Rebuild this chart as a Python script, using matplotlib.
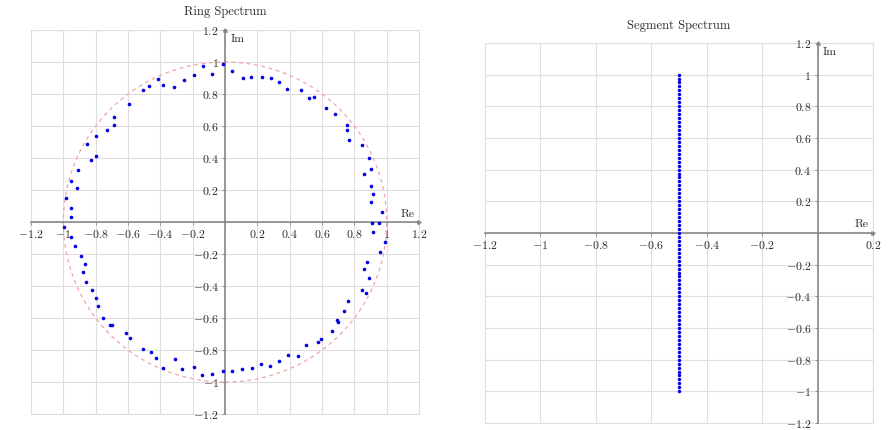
import matplotlib
matplotlib.use("Agg")
import matplotlib.pyplot as plt
from matplotlib.patches import Circle, Rectangle
from matplotlib.ticker import FixedLocator, FuncFormatter

plt.rcParams['font.family'] = 'serif'
plt.rcParams['font.serif'] = ['cmr10']
plt.rcParams['mathtext.fontset'] = 'cm'

# ring spectrum eigenvalues
ring_re = [-0.951, -0.951, -0.986, -0.914, -0.953, -0.910, -0.831, -0.800, -0.854, -0.796,
           -0.730, -0.685, -0.685, -0.593, -0.506, -0.469, -0.416, -0.385, -0.313, -0.251,
           -0.190, -0.134, -0.078, -0.014, 0.045, 0.109, 0.159, 0.226, 0.282, 0.335,
           0.381, 0.469, 0.519, 0.551, 0.623, 0.677, 0.757, 0.757, 0.767, 0.850,
           0.891, 0.905, 0.860, 0.905, 0.916, 0.905, 0.973, 0.909, 0.951,
           0.916, 0.990, 0.957, 0.875, 0.860, 0.891, 0.844, 0.870, 0.763, 0.735,
           0.693, 0.700, 0.660, 0.593, 0.572, 0.500, 0.449, 0.387, 0.333, 0.278,
           0.220, 0.165, 0.105, 0.045, -0.014, -0.078, -0.140, -0.190, -0.265, -0.311,
           -0.381, -0.426, -0.457, -0.508, -0.591, -0.611, -0.700, -0.710, -0.755, -0.783,
           -0.796, -0.821, -0.858, -0.881, -0.867, -0.892, -0.928, -0.954, -0.994]
ring_im = [0.029, 0.087, 0.147, 0.215, 0.254, 0.328, 0.386, 0.413, 0.487, 0.537,
           0.572, 0.607, 0.654, 0.739, 0.822, 0.853, 0.892, 0.854, 0.846, 0.886,
           0.920, 0.976, 0.924, 0.986, 0.943, 0.900, 0.908, 0.908, 0.898, 0.875,
           0.830, 0.822, 0.776, 0.782, 0.714, 0.673, 0.607, 0.576, 0.512, 0.483,
           0.398, 0.334, 0.301, 0.227, 0.173, 0.124, 0.062, -0.004, -0.004,
           -0.060, -0.126, -0.190, -0.250, -0.293, -0.351, -0.427, -0.442, -0.493, -0.555,
           -0.613, -0.623, -0.679, -0.731, -0.751, -0.766, -0.840, -0.834, -0.869, -0.900,
           -0.885, -0.910, -0.921, -0.931, -0.933, -0.947, -0.958, -0.904, -0.920, -0.859,
           -0.912, -0.850, -0.813, -0.793, -0.727, -0.696, -0.644, -0.644, -0.603, -0.524,
           -0.474, -0.424, -0.378, -0.315, -0.260, -0.212, -0.153, -0.091, -0.031]

# segment spectrum: all eigenvalues on Re = -0.5
seg_re = -0.5
seg_im = [-1.000, -0.975, -0.950, -0.925, -0.900, -0.875, -0.850, -0.825, -0.800,
          -0.775, -0.750, -0.725, -0.700, -0.675, -0.650, -0.625, -0.600, -0.575,
          -0.550, -0.525, -0.500, -0.475, -0.450, -0.425, -0.400, -0.375, -0.350,
          -0.325, -0.300, -0.275, -0.250, -0.225, -0.200, -0.175, -0.150, -0.125,
          -0.100, -0.075, -0.050, -0.025, 0.000, 0.025, 0.050, 0.075, 0.100,
          0.125, 0.150, 0.175, 0.200, 0.225, 0.250, 0.275, 0.300, 0.325,
          0.350, 0.375, 0.400, 0.425, 0.450, 0.475, 0.500, 0.525, 0.550,
          0.575, 0.600, 0.625, 0.650, 0.675, 0.700, 0.725, 0.750, 0.775,
          0.800, 0.825, 0.850, 0.875, 0.900, 0.925, 0.950, 0.975, 1.000]

ring_ticks = [-1.2, -1.0, -0.8, -0.6, -0.4, -0.2, 0.0, 0.2, 0.4, 0.6, 0.8, 1.0, 1.2]
seg_xticks = [-1.2, -1.0, -0.8, -0.6, -0.4, -0.2, 0.0, 0.2]

AXIS_C = '#888888'
GRID_C = '#dedede'
TEXT_C = '#2a2a2a'


def tick_fmt(v, pos):
    if abs(v) < 1e-9:
        return ''
    return '$%g$' % round(v, 1)


def middle_axes(ax, xticks, yticks):
    ax.set_xlim(xticks[0], xticks[-1])
    ax.set_ylim(yticks[0], yticks[-1])
    ax.xaxis.set_major_locator(FixedLocator(xticks))
    ax.yaxis.set_major_locator(FixedLocator(yticks))
    ax.xaxis.set_major_formatter(FuncFormatter(tick_fmt))
    ax.yaxis.set_major_formatter(FuncFormatter(tick_fmt))
    ax.grid(True, color=GRID_C, lw=0.8)
    ax.set_axisbelow(True)
    for s in ['top', 'right']:
        ax.spines[s].set_visible(False)
    for s in ['left', 'bottom']:
        ax.spines[s].set_position(('data', 0))
        ax.spines[s].set_color(AXIS_C)
        ax.spines[s].set_linewidth(1.2)
    ax.add_patch(Rectangle((0, 0), 1, 1, transform=ax.transAxes, fill=False,
                           ec=GRID_C, lw=0.8, clip_on=False, zorder=0))
    ax.tick_params(length=2.5, width=0.6, color=AXIS_C, labelsize=8.5,
                   labelcolor=TEXT_C, pad=2)
    # arrow heads
    ax.plot(1, 0, '>', ms=2.5, color=AXIS_C, transform=ax.get_yaxis_transform(), clip_on=False)
    ax.plot(0, 1, '^', ms=2.5, color=AXIS_C, transform=ax.get_xaxis_transform(), clip_on=False)
    ax.annotate('Re', xy=(1, 0), xycoords=('axes fraction', 'data'), xytext=(-3, 2.5),
                textcoords='offset points', ha='right', va='bottom', fontsize=8.5, color=TEXT_C)
    ax.annotate('Im', xy=(0, 1), xycoords=('data', 'axes fraction'), xytext=(4, -3),
                textcoords='offset points', ha='left', va='top', fontsize=8.5, color=TEXT_C)


fig = plt.figure(figsize=(8.92, 4.30), dpi=100)
ax1 = fig.add_axes([0.0348, 0.0372, 0.435, 0.893])
ax2 = fig.add_axes([0.5437, 0.0163, 0.435, 0.884])

middle_axes(ax1, ring_ticks, ring_ticks)
ax1.add_patch(Circle((0, 0), 1, fill=False, ls=(0, (3, 3)), color='#f2a3a3', lw=0.9, zorder=2))
ax1.plot(ring_re, ring_im, 'o', ms=2.6, color='#0000e0', mec='none', zorder=3)
ax1.set_title('Ring Spectrum', fontsize=9, pad=11, color=TEXT_C)

middle_axes(ax2, seg_xticks, ring_ticks)
ax2.plot([seg_re] * len(seg_im), seg_im, 'o', ms=2.5, color='#0000e0', mec='none', zorder=3)
ax2.set_title('Segment Spectrum', fontsize=9, pad=10, color=TEXT_C)

fig.savefig('out.png', dpi=100)
